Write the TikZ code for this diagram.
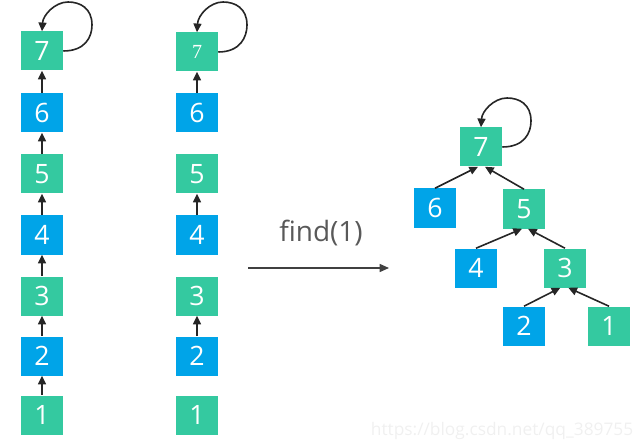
\documentclass[tikz,border=0pt]{standalone}
\usepackage{fontspec}
\setmainfont{Open Sans}
\newfontfamily\serifdigit{Liberation Serif}
\usetikzlibrary{arrows.meta,calc}
\definecolor{ngreen}{RGB}{52,201,160}
\definecolor{nblue}{RGB}{0,164,232}
\definecolor{txtgray}{RGB}{89,89,89}
\definecolor{linegray}{RGB}{64,64,64}
\tikzset{
  box/.style={rectangle, minimum width=31.5pt, minimum height=29.25pt, inner sep=0pt,
    text=white, font=\fontsize{20}{20}\selectfont},
  gbox/.style={box, fill=ngreen},
  bbox/.style={box, fill=nblue},
  edge/.style={draw=black!85, line width=1.2pt, -{Triangle[length=6.5pt,width=6pt]}},
  garrow/.style={draw=linegray, line width=1.1pt, -{Triangle[length=7pt,width=6pt]}},
}
\begin{document}
\begin{tikzpicture}[x=0.75pt,y=-0.75pt]
\useasboundingbox (0,0) rectangle (639,442);
% column 1
\node[gbox] (a7) at (42,51) {7};
\node[bbox] (a6) at (42,113) {6};
\node[gbox] (a5) at (42,174) {5};
\node[bbox] (a4) at (42,235) {4};
\node[gbox] (a3) at (42,296) {3};
\node[bbox] (a2) at (42,356) {2};
\node[gbox] (a1) at (42,415) {1};
\draw[edge] (a1) -- (a2);
\draw[edge] (a2) -- (a3);
\draw[edge] (a3) -- (a4);
\draw[edge] (a4) -- (a5);
\draw[edge] (a5) -- (a6);
\draw[edge] (a6) -- (a7);
\draw[edge] (a7.east) .. controls +(22,0) and +(0,12) .. (92,25) .. controls (92,8) and (80,2) .. (68,2) .. controls (55,2) and (43,15) .. (a7.north);
% column 2
\node[gbox, font=\serifdigit\fontsize{15}{15}\selectfont] (b7) at (197,52) {7};
\node[bbox] (b6) at (197,113) {6};
\node[gbox] (b5) at (197,174) {5};
\node[bbox] (b4) at (197,235) {4};
\node[gbox] (b3) at (197,296) {3};
\node[bbox] (b2) at (197,356) {2};
\node[gbox] (b1) at (197,415) {1};
\draw[edge] (b2) -- (b3);
\draw[edge] (b4) -- (b5);
\draw[edge] (b6) -- (b7);
\draw[edge] (b7.east) .. controls +(22,0) and +(0,12) .. (247,25) .. controls (247,8) and (235,2) .. (223,2) .. controls (210,2) and (198,15) .. (b7.north);
% find arrow
\coordinate (fs) at (248,268);
\coordinate (fe) at (389,268);
\draw[garrow] (fs) -- (fe);
\node[text=txtgray, font=\fontsize{21}{21}\selectfont] (find) at (321,233) {find(1)};
% tree
\node[gbox] (t7) at (481,147) {7};
\node[bbox] (t6) at (435,208) {6};
\node[gbox] (t5) at (524,209) {5};
\node[bbox] (t4) at (476,268) {4};
\node[gbox] (t3) at (565,268) {3};
\node[bbox] (t2) at (524,326) {2};
\node[gbox] (t1) at (609,326) {1};
\draw[edge] (t6.north) -- ([xshift=-2.25pt]t7.south);
\draw[edge] (t5.north) -- ([xshift=3pt]t7.south);
\draw[edge] (t4.north) -- ([xshift=-1.5pt]t5.south);
\draw[edge] (t3.north) -- ([xshift=3pt]t5.south);
\draw[edge] (t2.north) -- ([xshift=-3.5pt]t3.south);
\draw[edge] (t1.north) -- ([xshift=2.5pt]t3.south);
\draw[edge] (t7.east) .. controls +(22,0) and +(0,12) .. (531,121) .. controls (531,104) and (519,98) .. (507,98) .. controls (494,98) and (482,111) .. (t7.north);
% watermark
\node[text=black!6, font=\fontsize{13}{13}\selectfont, anchor=east] (wm) at (638,431) {https://blog.csdn.net/qq\_389755};
\end{tikzpicture}
\end{document}
